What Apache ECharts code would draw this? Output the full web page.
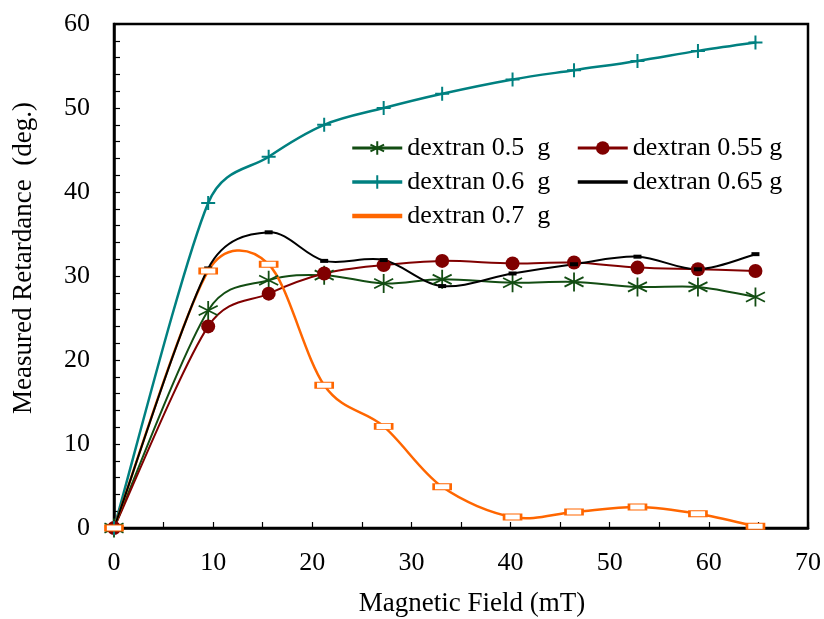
<!DOCTYPE html>
<html>
<head>
<meta charset="utf-8">
<script src="https://cdn.jsdelivr.net/npm/echarts@6/dist/echarts.min.js"></script>
<style>
  html, body { margin: 0; padding: 0; background: #fff; }
  #chart { width: 824px; height: 619px; }
</style>
</head>
<body>
<div id="chart"></div>
<script>
// Magnetic field steps (mT) shared by every sample
const field = [0, 9.5, 15.6, 21.2, 27.2, 33.1, 40.2, 46.4, 52.8, 58.9, 64.7];

// Measured retardance (deg.) per dextran amount
const dextran05  = [0, 25.9, 29.5, 30.1, 29.1, 29.6, 29.2, 29.3, 28.7, 28.7, 27.5];
const dextran055 = [0, 24.0, 27.9, 30.3, 31.3, 31.8, 31.5, 31.6, 31.0, 30.8, 30.6];
const dextran06  = [0, 38.7, 44.2, 48.0, 50.0, 51.7, 53.4, 54.5, 55.6, 56.8, 57.8];
const dextran065 = [0, 30.9, 35.2, 31.8, 31.9, 28.8, 30.3, 31.4, 32.3, 30.8, 32.6];
const dextran07  = [0, 30.6, 31.4, 17.0, 12.1, 4.9, 1.3, 1.9, 2.5, 1.7, 0.2];

const seriesNames = ['dextran 0.5  g', 'dextran 0.55 g', 'dextran 0.6  g', 'dextran 0.65 g', 'dextran 0.7  g'];

const xTicks = [0, 10, 20, 30, 40, 50, 60, 70];
const yTicks = [0, 10, 20, 30, 40, 50, 60];

const SERIF = '"Liberation Serif", "DejaVu Serif", serif';

function pairs(values) {
  return field.map((x, i) => [x, values[i]]);
}

function dist(a, b) {
  return Math.hypot(b[0] - a[0], b[1] - a[1]);
}

// Smoothed connecting curve: cubic Bezier segments through the projected
// points. Tangents come from the neighbouring points (1/6 of the chord),
// with each handle capped at half of its own segment length.
function smoothCurve(values, color, width, z) {
  return {
    type: 'custom',
    coordinateSystem: 'cartesian2d',
    data: [[field[0], values[0]]],
    encode: { x: 0, y: 1 },
    silent: true,
    z: z,
    clip: true,
    renderItem: function (params, api) {
      const p = field.map((x, i) => api.coord([x, values[i]]));
      const n = p.length;
      const children = [];
      for (let i = 0; i < n - 1; i++) {
        const p0 = p[Math.max(i - 1, 0)];
        const p1 = p[i];
        const p2 = p[i + 1];
        const p3 = p[Math.min(i + 2, n - 1)];
        const d12 = dist(p1, p2);
        const d02 = dist(p0, p2);
        const d13 = dist(p1, p3);
        const f0 = d02 > 0 ? Math.min(1 / 6, d12 / 2 / d02) : 0;
        const f1 = d13 > 0 ? Math.min(1 / 6, d12 / 2 / d13) : 0;
        children.push({
          type: 'bezierCurve',
          shape: {
            x1: p1[0], y1: p1[1],
            cpx1: p1[0] + (p2[0] - p0[0]) * f0, cpy1: p1[1] + (p2[1] - p0[1]) * f0,
            cpx2: p2[0] - (p3[0] - p1[0]) * f1, cpy2: p2[1] - (p3[1] - p1[1]) * f1,
            x2: p2[0], y2: p2[1]
          },
          style: { stroke: color, lineWidth: width, fill: null, lineCap: 'round' }
        });
      }
      return { type: 'group', children: children };
    },
    animation: false
  };
}

const asterisk = 'path://M5,0 L5,10 M0.67,2.5 L9.33,7.5 M0.67,7.5 L9.33,2.5';
const plus = 'path://M5,0 L5,10 M0,5 L10,5';

// Marker series: points only, the curve is drawn by smoothCurve
function markerSeries(name, values, color, width, symbol, size, itemStyle, z) {
  return {
    name: name,
    type: 'line',
    data: pairs(values),
    symbol: symbol,
    symbolSize: size,
    showAllSymbol: true,
    z: z,
    lineStyle: { color: color, width: width, opacity: 0 },
    itemStyle: itemStyle,
    emphasis: { disabled: true },
    animation: false
  };
}

const chart = echarts.init(document.getElementById('chart'), null, { renderer: 'canvas' });

const legendText = { fontFamily: SERIF, fontSize: 26, color: '#000', lineHeight: 26 };
const legendBase = {
  orient: 'vertical', top: 135, padding: 0,
  itemWidth: 50, itemHeight: 17, itemGap: 8,
  textStyle: legendText, selectedMode: false,
  lineStyle: { opacity: 1 }
};

const colors = ['#134d13', '#800000', '#008080', '#000000', '#ff6600'];

chart.setOption({
  backgroundColor: '#fff',
  animation: false,
  grid: {
    left: 114, right: 16, top: 24, bottom: 91,
    show: true, borderColor: '#000', borderWidth: 2.5, backgroundColor: 'transparent'
  },
  xAxis: {
    type: 'value',
    min: xTicks[0], max: xTicks[xTicks.length - 1], interval: 10,
    axisLine: { show: true, lineStyle: { color: '#000', width: 2.5 } },
    axisTick: { show: true, inside: true, length: 6, lineStyle: { color: '#000', width: 1.2 } },
    minorTick: { show: true, splitNumber: 2, length: 6, lineStyle: { color: '#000', width: 1.2 } },
    splitLine: { show: false },
    axisLabel: { fontFamily: SERIF, fontSize: 26, color: '#000', margin: 22 }
  },
  yAxis: {
    type: 'value',
    min: yTicks[0], max: yTicks[yTicks.length - 1], interval: 10,
    axisLine: { show: true, lineStyle: { color: '#000', width: 2.5 } },
    axisTick: { show: true, inside: true, length: 6, lineStyle: { color: '#000', width: 1.2 } },
    minorTick: { show: true, splitNumber: 5, length: 6, lineStyle: { color: '#000', width: 1.2 } },
    splitLine: { show: false },
    axisLabel: { fontFamily: SERIF, fontSize: 26, color: '#000', margin: 24 }
  },
  legend: [
    Object.assign({}, legendBase, {
      left: 350,
      data: [
        { name: seriesNames[0], lineStyle: { width: 3 } },
        { name: seriesNames[2], lineStyle: { width: 3.5 } },
        { name: seriesNames[4], lineStyle: { width: 4.5 }, itemStyle: { opacity: 0 } }
      ]
    }),
    Object.assign({}, legendBase, {
      left: 576,
      data: [
        { name: seriesNames[1], lineStyle: { width: 3 } },
        { name: seriesNames[3], lineStyle: { width: 3.5 }, itemStyle: { opacity: 0 } }
      ]
    })
  ],
  graphic: [
    {
      type: 'text', x: 24, y: 258, rotation: Math.PI / 2,
      style: {
        text: 'Measured Retardance  (deg.)', font: '27px ' + SERIF, fill: '#000',
        textAlign: 'center', textVerticalAlign: 'middle'
      }
    },
    {
      type: 'text', x: 472, y: 604,
      style: {
        text: 'Magnetic Field (mT)', font: '27px ' + SERIF, fill: '#000',
        textAlign: 'center', textVerticalAlign: 'middle'
      }
    }
  ],
  series: [
    smoothCurve(dextran06, colors[2], 2.5, 2),
    smoothCurve(dextran05, colors[0], 2, 3),
    smoothCurve(dextran055, colors[1], 2, 3),
    smoothCurve(dextran07, colors[4], 2.5, 3),
    smoothCurve(dextran065, colors[3], 2, 4),
    markerSeries(seriesNames[0], dextran05, colors[0], 2, asterisk, 19,
      { color: colors[0], borderColor: colors[0], borderWidth: 1.8 }, 6),
    markerSeries(seriesNames[1], dextran055, colors[1], 2, 'circle', 14,
      { color: colors[1], borderColor: colors[1], borderWidth: 0 }, 6),
    markerSeries(seriesNames[2], dextran06, colors[2], 2.5, plus, 14,
      { color: colors[2], borderColor: colors[2], borderWidth: 2 }, 6),
    markerSeries(seriesNames[3], dextran065, colors[3], 2, 'rect', [8, 4],
      { color: '#000', borderColor: '#000', borderWidth: 0 }, 7),
    markerSeries(seriesNames[4], dextran07, colors[4], 2.5, 'rect', [17, 6],
      { color: '#fff', borderColor: colors[4], borderWidth: 1.6 }, 7)
  ]
});
</script>
</body>
</html>
